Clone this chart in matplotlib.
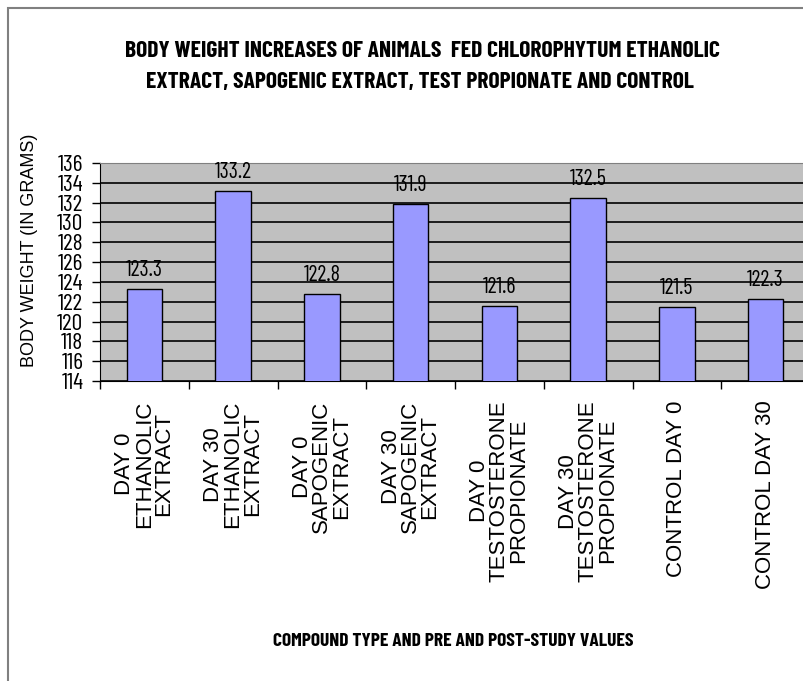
import matplotlib
matplotlib.use("Agg")
import matplotlib.pyplot as plt
from matplotlib.patches import Rectangle

# donnees
categories = [
    "DAY 0\nETHANOLIC\nEXTRACT",
    "DAY 30\nETHANOLIC\nEXTRACT",
    "DAY 0\nSAPOGENIC\nEXTRACT",
    "DAY 30\nSAPOGENIC\nEXTRACT",
    "DAY 0\nTESTOSTERONE\nPROPIONATE",
    "DAY 30\nTESTOSTERONE\nPROPIONATE",
    "CONTROL DAY 0",
    "CONTROL DAY 30",
]
weights = [123.3, 133.2, 122.8, 131.9, 121.6, 132.5, 121.5, 122.3]
y_ticks = list(range(114, 137, 2))

narrow = ["Barlow Condensed", "Archivo Narrow", "DejaVu Sans"]
regular = ["Liberation Sans", "DejaVu Sans"]

fig = plt.figure(figsize=(8.04, 6.81), dpi=100)
W, H = 804, 681

# cadre gris autour du graphique
fig.patches.append(Rectangle((8 / W, -0.05), 1.2, (H - 8) / H + 0.05,
                             transform=fig.transFigure, fill=False,
                             edgecolor="#808080", linewidth=1.5))

ax = fig.add_axes([100 / W, (H - 381) / H, 710 / W, 218 / H])
ax.set_facecolor("#C0C0C0")

x = list(range(len(categories)))
bars = ax.bar(x, weights, width=0.4, color="#9999FF", edgecolor="black",
              linewidth=1, zorder=3)

for xi, v in zip(x, weights):
    ax.text(xi, v + 0.8, f"{v}", ha="center", va="bottom",
            family=narrow, fontsize=16, zorder=4)

ax.set_xlim(-0.5, len(categories) - 0.5)
ax.set_ylim(114, 136)
ax.set_yticks(y_ticks)
ax.set_yticklabels([str(t) for t in y_ticks], family=narrow, fontsize=17)
ax.yaxis.grid(True, color="black", linewidth=1.2, zorder=1)
ax.set_axisbelow(True)
ax.tick_params(axis="y", direction="out", length=6, width=1, pad=6)

# traits entre les categories, etiquettes au centre
ax.set_xticks([i - 0.5 for i in range(len(categories) + 1)])
ax.set_xticklabels([])
ax.set_xticks(x, minor=True)
ax.set_xticklabels(categories, minor=True, rotation=90, family=regular,
                   fontsize=16, ha="center", va="top", multialignment="center",
                   linespacing=0.9)
ax.tick_params(axis="x", which="major", direction="out", length=6, width=1)
ax.tick_params(axis="x", which="minor", length=0, pad=14)

ax.spines["left"].set_color("black")
ax.spines["bottom"].set_color("black")
ax.spines["top"].set_color("#808080")
ax.spines["right"].set_visible(False)

ax.set_ylabel("BODY WEIGHT (IN GRAMS)", family=regular, fontsize=13,
              labelpad=0)
ax.yaxis.set_label_coords(-62 / 710, 0.6)

fig.text(422 / W, (H - 51) / H,
         "BODY WEIGHT INCREASES OF ANIMALS  FED CHLOROPHYTUM ETHANOLIC",
         ha="center", va="center", family=narrow, fontweight="bold", fontsize=17)
fig.text(420 / W, (H - 82) / H,
         "EXTRACT, SAPOGENIC EXTRACT, TEST PROPIONATE AND CONTROL",
         ha="center", va="center", family=narrow, fontweight="bold", fontsize=17)
fig.text(453 / W, (H - 641) / H,
         "COMPOUND TYPE AND PRE AND POST-STUDY VALUES",
         ha="center", va="center", family=narrow, fontweight="bold", fontsize=14)

fig.savefig("out.png", dpi=100)
